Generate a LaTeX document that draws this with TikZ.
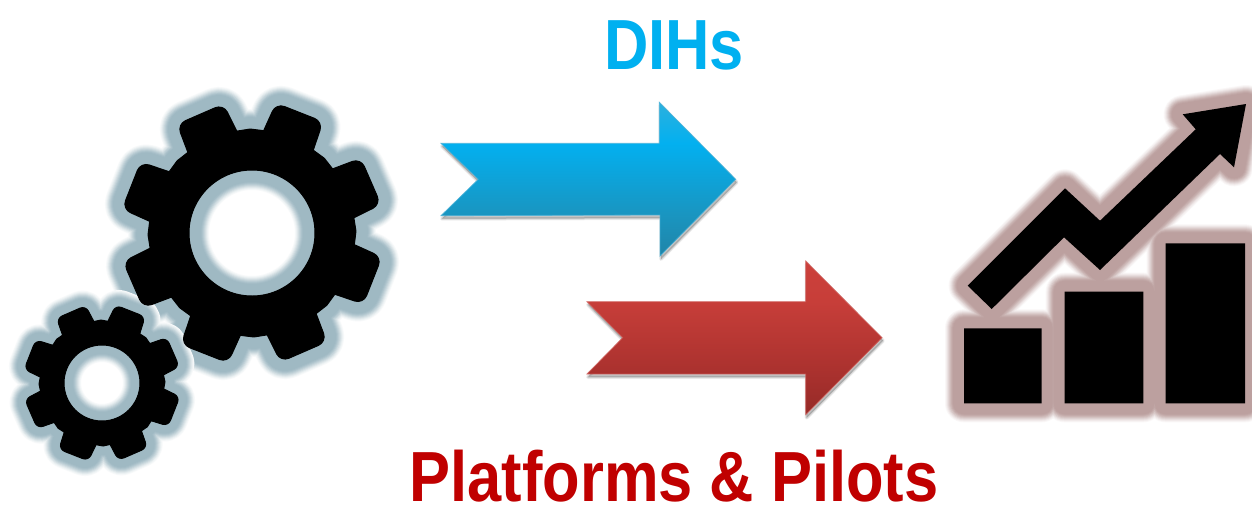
\documentclass[tikz,border=0pt]{standalone}
\usepackage{fontspec}
\setmainfont{Liberation Sans}
\definecolor{gearglow}{HTML}{9FB9C3}
\definecolor{chartglow}{HTML}{BCA09F}
\definecolor{dihblue}{HTML}{00B0F0}
\definecolor{platred}{HTML}{C00000}
\definecolor{blueedge}{HTML}{45AFD6}
\definecolor{rededge}{HTML}{CF5F5B}
\pgfdeclareverticalshading{blueshade}{100bp}{rgb(0bp)=(.125,.52,.66); rgb(25bp)=(.125,.52,.66); rgb(38.3bp)=(.10,.584,.753); rgb(61.7bp)=(.01,.69,.94); rgb(75bp)=(.17,.69,.87); rgb(100bp)=(.17,.69,.87)}
\pgfdeclareverticalshading{redshade}{100bp}{rgb(0bp)=(.584,.165,.153); rgb(25bp)=(.584,.165,.153); rgb(38.3bp)=(.663,.192,.18); rgb(61.7bp)=(.78,.243,.224); rgb(75bp)=(.80,.251,.231); rgb(100bp)=(.80,.251,.231)}
% #1 body radius, #2 tip radius, #3 hole radius, #4 base half angle, #5 tip half angle, #6 first tooth angle, #7 tip rounding
\newcommand\gearoutline[7]{
  (-#6+#4:#1)
  foreach \a in {0,45,...,315} {
    -- (-#6-\a+#4:#1) [rounded corners=#7] -- (-#6-\a+#5:#2) -- (-#6-\a-#5:#2) [sharp corners] -- (-#6-\a-#4:#1) -- (-#6-\a-22.5:#1+1)
  } -- cycle
  (0,0) circle[radius=#3]
}
\newcommand\biggear{\gearoutline{103}{132}{63}{15}{11}{23.5}{9}}
\newcommand\smallgear{\gearoutline{62}{79}{38}{16}{11.5}{23.5}{6}}
\newcommand\chartshape{
  (964,328.3) rectangle (1041.7,403.3)
  (1064.7,291.7) rectangle (1143.3,403.3)
  (1165.7,243.3) rectangle (1245,403.3)
  (967.7,285.7) -- (1065,188.3) -- (1100,220.7) -- (1195.7,129.3) -- (1182.7,114.3) -- (1246,104) -- (1234,167.3) -- (1220,154) -- (1100,270) -- (1064,237.3) -- (991.7,309) -- cycle
}
\newcommand\bluearrow{(441,143.3) -- (478.3,179.3) -- (441,215.7) -- (660,215) -- (660,256) -- (735.7,179.3) -- (659.3,102.3) -- (659.3,143.3) -- cycle}
\newcommand\redarrow{(587,301.7) -- (622.7,337.7) -- (587,374) -- (805.7,374) -- (805.7,414.7) -- (882,337.7) -- (805.7,261) -- (805.7,301.7) -- cycle}
\tikzset{
  gearbody/.style={fill=black,draw=black,line width=1pt,even odd rule},
  arrowshadow/.style={fill=black,draw=black,fill opacity=.05,draw opacity=.05,line width=#1,line join=round},
  wordlabel/.style={inner sep=0pt,font=\fontsize{71}{84}\bfseries\selectfont,xscale=.865}
}
\begin{document}
\begin{tikzpicture}[x=1pt,y=-1pt]
\useasboundingbox (0,0) rectangle (1252,509);
\fill[white] (0,0) rectangle (1252,509);
% glows
\foreach \wd/\p in {40/8,38/18,36/30,34/44,32/58,30/72,28/84,26/94,24/100}{
  \begin{scope}[shift={(252,233)}]
    \draw[gearglow!\p!white,line width=\wd pt,line join=round] \biggear;
  \end{scope}
}
\foreach \wd/\p in {34/8,32/18,30/30,28/44,26/58,24/72,22/84,20/94,18/100}{
  \begin{scope}[shift={(102,383)}]
    \draw[gearglow!\p!white,line width=\wd pt,line join=round] \smallgear;
  \end{scope}
}
\foreach \wd/\p in {38/8,36/18,34/30,32/44,30/58,28/72,26/84,24/94,22/100}{
  \draw[chartglow!\p!white,line width=\wd pt,line join=round] \chartshape;
}
% gears
\begin{scope}[shift={(252,233)}]
  \path[gearbody] \biggear;
\end{scope}
\begin{scope}[shift={(102,383)}]
  \path[gearbody] \smallgear;
\end{scope}
% chart
\fill[black] \chartshape;
% arrows
\foreach \s in {1,2,3,4}{
  \begin{scope}[shift={(1,3)}]
    \path[arrowshadow=\s pt] \bluearrow;
    \path[arrowshadow=\s pt] \redarrow;
  \end{scope}
}
\path[shading=blueshade] \bluearrow;
\draw[blueedge,line width=.8pt,line join=miter,opacity=.8] \bluearrow;
\path[shading=redshade] \redarrow;
\draw[rededge,line width=.8pt,line join=miter,opacity=.8] \redarrow;
% labels
\node[wordlabel,text=dihblue] (dihs) at (674,45) {DIHs};
\node[wordlabel,text=platred] (platforms) at (674,476) {Platforms \& Pilots};
\end{tikzpicture}
\end{document}
